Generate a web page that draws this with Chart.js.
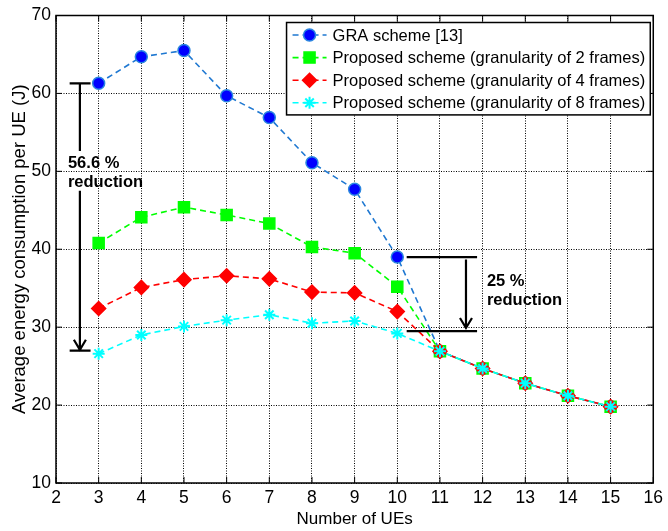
<!DOCTYPE html>
<html>
<head>
<meta charset="utf-8">
<script src="https://cdn.jsdelivr.net/npm/chart.js@4/dist/chart.umd.min.js"></script>
<style>
  body { margin: 0; background: #fff; }
  canvas { display: block; }
</style>
</head>
<body>
<canvas id="energyChart" width="668" height="531"></canvas>
<script>
  // Number of UEs on the x axis
  const nUEs = [3, 4, 5, 6, 7, 8, 9, 10, 11, 12, 13, 14, 15];

  // Average energy consumption per UE (J)
  const graScheme = [61.3, 64.7, 65.5, 59.7, 56.9, 51.1, 47.7, 39.0, 26.9, 24.7, 22.8, 21.2, 19.8];
  const gran2 = [40.8, 44.1, 45.4, 44.4, 43.3, 40.3, 39.5, 35.2, 26.9, 24.7, 22.8, 21.2, 19.8];
  const gran4 = [32.4, 35.1, 36.1, 36.6, 36.2, 34.5, 34.4, 32.0, 26.9, 24.7, 22.8, 21.2, 19.8];
  const gran8 = [26.6, 29.0, 30.1, 30.9, 31.6, 30.5, 30.8, 29.2, 26.9, 24.7, 22.8, 21.2, 19.8];

  const seriesLabels = [
    'GRA scheme [13]',
    'Proposed scheme (granularity of 2 frames)',
    'Proposed scheme (granularity of 4 frames)',
    'Proposed scheme (granularity of 8 frames)'
  ];

  const xTicks = [2, 3, 4, 5, 6, 7, 8, 9, 10, 11, 12, 13, 14, 15, 16];
  const yTicks = [10, 20, 30, 40, 50, 60, 70];

  const FONT = "'Liberation Sans', Arial, Helvetica, sans-serif";

  const toPoints = vals => vals.map((v, i) => ({ x: nUEs[i], y: v }));

  function series(label, values, color, fill, style, radius, order) {
    return {
      label: label,
      data: toPoints(values),
      showLine: true,
      borderColor: color,
      borderWidth: 1.6,
      borderDash: [6, 4],
      pointStyle: style,
      pointRadius: radius,
      pointBackgroundColor: fill,
      pointBorderColor: style === 'circle' ? '#2a86e0' : fill,
      pointBorderWidth: style === 'star' ? 2 : 1.5,
      order: order
    };
  }

  // frame box with inward ticks on all four sides
  const framePlugin = {
    id: 'frame',
    afterDatasetsDraw(chart) {
      const { ctx, chartArea: a, scales } = chart;
      ctx.save();
      ctx.strokeStyle = '#000';
      ctx.lineWidth = 1.5;
      ctx.strokeRect(a.left, a.top, a.right - a.left, a.bottom - a.top);
      ctx.lineWidth = 1;
      ctx.beginPath();
      xTicks.forEach(t => {
        const px = scales.x.getPixelForValue(t);
        ctx.moveTo(px, a.bottom); ctx.lineTo(px, a.bottom - 6);
        ctx.moveTo(px, a.top); ctx.lineTo(px, a.top + 6);
      });
      yTicks.forEach(t => {
        const py = scales.y.getPixelForValue(t);
        ctx.moveTo(a.left, py); ctx.lineTo(a.left + 6, py);
        ctx.moveTo(a.right, py); ctx.lineTo(a.right - 6, py);
      });
      ctx.stroke();
      ctx.restore();
    }
  };

  // reduction brackets and arrows
  const notesPlugin = {
    id: 'notes',
    afterDatasetsDraw(chart) {
      const { ctx, scales } = chart;
      const X = v => scales.x.getPixelForValue(v);
      const Y = v => scales.y.getPixelForValue(v);
      ctx.save();
      ctx.strokeStyle = '#000';
      ctx.fillStyle = '#000';
      ctx.lineWidth = 2.2;

      function arrowHead(x, y) {
        ctx.moveTo(x - 6, y - 10);
        ctx.lineTo(x, y);
        ctx.lineTo(x + 6, y - 10);
      }

      // left bracket: 56.6 % reduction
      ctx.beginPath();
      ctx.moveTo(X(2.32), Y(61.3)); ctx.lineTo(X(2.81), Y(61.3));
      ctx.moveTo(X(2.56), Y(61.3)); ctx.lineTo(X(2.56), Y(52.6));
      ctx.moveTo(X(2.56), Y(47.5)); ctx.lineTo(X(2.56), Y(27.1));
      arrowHead(X(2.56), Y(27.1));
      ctx.moveTo(X(2.32), Y(27.0)); ctx.lineTo(X(2.81), Y(27.0));
      ctx.stroke();

      // right bracket: 25 % reduction
      ctx.beginPath();
      ctx.moveTo(X(10.22), Y(39.0)); ctx.lineTo(X(11.87), Y(39.0));
      ctx.moveTo(X(11.61), Y(38.7)); ctx.lineTo(X(11.61), Y(29.9));
      arrowHead(X(11.61), Y(29.9));
      ctx.moveTo(X(10.22), Y(29.5)); ctx.lineTo(X(11.87), Y(29.5));
      ctx.stroke();

      ctx.font = 'bold 16.5px ' + FONT;
      ctx.textBaseline = 'middle';
      ctx.textAlign = 'left';
      ctx.fillText('56.6 %', X(2.28), Y(51.0));
      ctx.fillText('reduction', X(2.28), Y(48.6));
      ctx.fillText('25 %', X(12.1), Y(35.9));
      ctx.fillText('reduction', X(12.1), Y(33.4));
      ctx.restore();
    }
  };

  // boxed legend in the top right corner of the plot
  const legendPlugin = {
    id: 'boxLegend',
    afterDatasetsDraw(chart) {
      const { ctx, chartArea: a } = chart;
      ctx.save();
      ctx.font = '16.5px ' + FONT;
      const maxW = Math.max(...seriesLabels.map(s => ctx.measureText(s).width));
      const right = a.right - 3;
      const textX = right - 5 - maxW;
      const left = textX - 46;
      const top = a.top + 7;
      const rowH = 22.6;
      const bottom = top + rowH * 4 + 2;

      ctx.fillStyle = '#fff';
      ctx.fillRect(left, top, right - left, bottom - top);
      ctx.strokeStyle = '#000';
      ctx.lineWidth = 1.5;
      ctx.strokeRect(left, top, right - left, bottom - top);

      chart.data.datasets.forEach((ds, i) => {
        const y = top + 12.5 + i * rowH;
        ctx.strokeStyle = ds.borderColor;
        ctx.lineWidth = ds.borderWidth;
        ctx.setLineDash([6, 4]);
        ctx.beginPath();
        ctx.moveTo(left + 6, y);
        ctx.lineTo(textX - 6, y);
        ctx.stroke();
        ctx.setLineDash([]);
        ctx.fillStyle = ds.pointBackgroundColor;
        ctx.strokeStyle = ds.pointBorderColor;
        ctx.lineWidth = ds.pointBorderWidth;
        Chart.helpers.drawPoint(ctx, {
          pointStyle: ds.pointStyle,
          radius: ds.pointRadius,
          borderWidth: ds.pointBorderWidth,
          rotation: 0
        }, (left + textX) / 2, y);
        ctx.fillStyle = '#000';
        ctx.textBaseline = 'middle';
        ctx.fillText(ds.label, textX, y + 1);
      });
      ctx.restore();
    }
  };

  const ctx = document.getElementById('energyChart').getContext('2d');
  const energyChart = new Chart(ctx, {
    type: 'scatter',
    data: {
      datasets: [
        series(seriesLabels[0], graScheme, '#1f78d1', '#0000ff', 'circle', 6, 4),
        series(seriesLabels[1], gran2, '#00ff00', '#00ff00', 'rect', 7.8, 3),
        series(seriesLabels[2], gran4, '#ff0000', '#ff0000', 'rectRot', 7, 2),
        series(seriesLabels[3], gran8, '#00ffff', '#00ffff', 'star', 6, 1)
      ]
    },
    options: {
      responsive: false,
      animation: false,
      layout: { padding: { top: 14, right: 9, left: 0, bottom: 0 } },
      plugins: {
        legend: { display: false },
        tooltip: { enabled: false }
      },
      scales: {
        x: {
          type: 'linear',
          min: 2,
          max: 16,
          afterFit: s => { s.height = 48; },
          afterBuildTicks: s => { s.ticks = xTicks.map(v => ({ value: v })); },
          grid: { color: '#000', lineWidth: 1, drawTicks: false },
          border: { display: false, dash: [1, 1.5] },
          ticks: { color: '#000', padding: 5, font: { family: FONT, size: 17.5 } },
          title: {
            display: true,
            text: 'Number of UEs',
            color: '#000',
            padding: 1,
            font: { family: FONT, size: 17 }
          }
        },
        y: {
          min: 10,
          max: 70,
          afterFit: s => { s.width = 56; },
          afterBuildTicks: s => { s.ticks = yTicks.map(v => ({ value: v })); },
          grid: { color: '#000', lineWidth: 1, drawTicks: false },
          border: { display: false, dash: [1, 1.5] },
          ticks: { color: '#000', padding: 5, font: { family: FONT, size: 17.5 } },
          title: {
            display: true,
            text: 'Average energy consumption per UE (J)',
            color: '#000',
            padding: 9,
            font: { family: FONT, size: 18.5 }
          }
        }
      }
    },
    plugins: [framePlugin, notesPlugin, legendPlugin]
  });
</script>
</body>
</html>
